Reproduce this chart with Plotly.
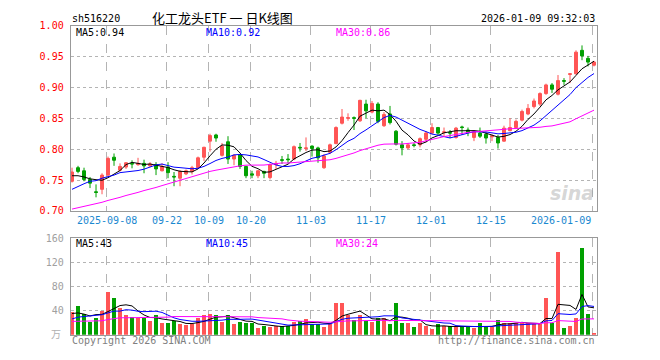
import plotly.graph_objects as go
import pandas as pd

# ---------------- data ----------------
dates = [
    "2025-08-29",
    "2025-09-01", "2025-09-02", "2025-09-03", "2025-09-04", "2025-09-05",
    "2025-09-08", "2025-09-09", "2025-09-10", "2025-09-11", "2025-09-12",
    "2025-09-15", "2025-09-16", "2025-09-17", "2025-09-18", "2025-09-19",
    "2025-09-22", "2025-09-23", "2025-09-24", "2025-09-25", "2025-09-26",
    "2025-09-29", "2025-09-30",
    "2025-10-09", "2025-10-10", "2025-10-13", "2025-10-14", "2025-10-15",
    "2025-10-16", "2025-10-17", "2025-10-20", "2025-10-21", "2025-10-22",
    "2025-10-23", "2025-10-24", "2025-10-27", "2025-10-28", "2025-10-29",
    "2025-10-30", "2025-10-31",
    "2025-11-03", "2025-11-04", "2025-11-05", "2025-11-06", "2025-11-07",
    "2025-11-10", "2025-11-11", "2025-11-12", "2025-11-13", "2025-11-14",
    "2025-11-17", "2025-11-18", "2025-11-19", "2025-11-20", "2025-11-21",
    "2025-11-24", "2025-11-25", "2025-11-26", "2025-11-27", "2025-11-28",
    "2025-12-01", "2025-12-02", "2025-12-03", "2025-12-04", "2025-12-05",
    "2025-12-08", "2025-12-09", "2025-12-10", "2025-12-11", "2025-12-12",
    "2025-12-15", "2025-12-16", "2025-12-17", "2025-12-18", "2025-12-19",
    "2025-12-22", "2025-12-23", "2025-12-24", "2025-12-25", "2025-12-26",
    "2025-12-29", "2025-12-30", "2025-12-31",
    "2026-01-05", "2026-01-06", "2026-01-07", "2026-01-08", "2026-01-09",
]

open_ = [0.748, 0.770, 0.765, 0.751, 0.731, 0.735, 0.758, 0.787, 0.766, 0.771,
         0.777, 0.775, 0.777, 0.773, 0.775, 0.765, 0.771, 0.756, 0.753, 0.760,
         0.764, 0.770, 0.787, 0.813, 0.823, 0.790, 0.812, 0.784, 0.791, 0.772,
         0.760, 0.757, 0.764, 0.754, 0.775, 0.783, 0.784, 0.784, 0.803, 0.801,
         0.805, 0.802, 0.770, 0.795, 0.809, 0.842, 0.850, 0.851, 0.846, 0.873,
         0.860, 0.873, 0.838, 0.857, 0.829, 0.807, 0.802, 0.807, 0.807, 0.816,
         0.826, 0.835, 0.827, 0.827, 0.819, 0.836, 0.831, 0.819, 0.826, 0.824,
         0.820, 0.819, 0.813, 0.830, 0.835, 0.847, 0.857, 0.869, 0.873, 0.890,
         0.904, 0.889, 0.911, 0.921, 0.922, 0.960, 0.947, 0.936]
high = [0.770, 0.773, 0.770, 0.755, 0.743, 0.761, 0.788, 0.793, 0.777, 0.779,
        0.782, 0.786, 0.783, 0.779, 0.779, 0.777, 0.779, 0.763, 0.766, 0.767,
        0.773, 0.788, 0.804, 0.825, 0.825, 0.810, 0.821, 0.792, 0.792, 0.773,
        0.765, 0.766, 0.765, 0.777, 0.781, 0.789, 0.792, 0.806, 0.810, 0.819,
        0.806, 0.804, 0.792, 0.809, 0.837, 0.865, 0.858, 0.853, 0.880, 0.880,
        0.878, 0.876, 0.860, 0.870, 0.831, 0.813, 0.810, 0.810, 0.819, 0.829,
        0.842, 0.836, 0.835, 0.831, 0.836, 0.838, 0.835, 0.830, 0.835, 0.828,
        0.824, 0.823, 0.838, 0.850, 0.848, 0.864, 0.873, 0.882, 0.892, 0.906,
        0.907, 0.920, 0.915, 0.923, 0.960, 0.968, 0.951, 0.943]
low = [0.746, 0.761, 0.748, 0.737, 0.722, 0.727, 0.756, 0.773, 0.764, 0.768,
       0.769, 0.773, 0.761, 0.771, 0.758, 0.764, 0.753, 0.740, 0.740, 0.758,
       0.759, 0.768, 0.781, 0.796, 0.812, 0.788, 0.776, 0.774, 0.768, 0.753,
       0.753, 0.753, 0.753, 0.751, 0.768, 0.776, 0.777, 0.782, 0.796, 0.797,
       0.788, 0.778, 0.768, 0.792, 0.808, 0.840, 0.846, 0.831, 0.844, 0.850,
       0.858, 0.842, 0.836, 0.840, 0.806, 0.790, 0.800, 0.803, 0.803, 0.811,
       0.824, 0.823, 0.821, 0.818, 0.817, 0.823, 0.821, 0.813, 0.818, 0.809,
       0.813, 0.801, 0.812, 0.829, 0.834, 0.845, 0.855, 0.866, 0.870, 0.888,
       0.891, 0.887, 0.904, 0.907, 0.921, 0.944, 0.934, 0.934]
close = [0.763, 0.764, 0.751, 0.745, 0.730, 0.758, 0.785, 0.782, 0.772, 0.778,
         0.776, 0.777, 0.773, 0.776, 0.768, 0.772, 0.762, 0.755, 0.764, 0.765,
         0.770, 0.786, 0.803, 0.822, 0.818, 0.805, 0.784, 0.790, 0.772, 0.757,
         0.758, 0.765, 0.761, 0.775, 0.777, 0.782, 0.783, 0.804, 0.802, 0.802,
         0.801, 0.786, 0.789, 0.807, 0.835, 0.852, 0.851, 0.850, 0.879, 0.862,
         0.874, 0.845, 0.856, 0.843, 0.808, 0.802, 0.807, 0.806, 0.817, 0.826,
         0.835, 0.826, 0.828, 0.826, 0.834, 0.835, 0.827, 0.828, 0.821, 0.818,
         0.821, 0.810, 0.834, 0.835, 0.845, 0.861, 0.866, 0.878, 0.890, 0.904,
         0.897, 0.911, 0.910, 0.922, 0.957, 0.951, 0.941, 0.941]
volume = [37, 47, 34, 21, 27, 39, 70, 61, 44, 33,
          30, 28, 28, 23, 32, 19, 19, 22, 17, 16,
          18, 27, 32, 35, 33, 21, 33, 18, 21, 19,
          19, 11, 14, 13, 15, 14, 14, 21, 22, 26,
          17, 17, 13, 18, 53, 53, 32, 25, 32, 22,
          21, 28, 28, 17, 53, 19, 19, 12, 19, 14,
          9, 17, 14, 14, 13, 12, 12, 11, 19, 13,
          13, 25, 19, 19, 19, 20, 19, 17, 17, 61,
          19, 137, 11, 14, 28, 143, 34, 3]

# moving-average values before enough in-window history exists
ma5_head = [0.757, 0.757, 0.755, 0.752]
ma10_head = [0.735, 0.740, 0.744, 0.748, 0.749, 0.753, 0.755, 0.758, 0.762]
ma30_head = [0.703, 0.705, 0.707, 0.709, 0.712, 0.714, 0.717, 0.719, 0.722, 0.725,
             0.727, 0.730, 0.733, 0.735, 0.738, 0.741, 0.744, 0.746, 0.749, 0.752,
             0.755, 0.758, 0.761, 0.764, 0.766, 0.768, 0.770, 0.772, 0.773]
vma5_head = [35, 36, 34, 31]
vma10_head = [26, 29, 30, 31, 31, 33, 36, 39, 39]
vma30_head = [22, 22, 22, 22, 22, 23, 25, 27, 28, 28, 28, 28, 28, 28, 28, 29, 29,
              30, 30, 30, 30, 30, 30, 30, 30, 30, 30, 30, 30]

price_ma_labels = [0.94, 0.92, 0.86]
volume_ma_labels = [43, 45, 24]

tick_dates = ["2025-09-08", "2025-09-22", "2025-10-09", "2025-10-20", "2025-11-03",
              "2025-11-17", "2025-12-01", "2025-12-15", "2026-01-09"]
tick_labels = ["2025-09-08", "09-22", "10-09", "10-20", "11-03",
               "11-17", "12-01", "12-15", "2026-01-09"]
price_ticks = [0.70, 0.75, 0.80, 0.85, 0.90, 0.95, 1.00]
volume_ticks = [40, 80, 120, 160]

# ---------------- helpers ----------------
W, H = 660, 360
RED = "#ff5555"
GREEN = "#00a000"
MONO = "DejaVu Sans Mono"


def fx(px):
    return px / W


def fy(py):
    return 1 - py / H


def moving(vals, n, head):
    s = pd.Series(vals, dtype=float).rolling(n).mean()
    s.iloc[:n - 1] = head
    return s.tolist()


idx = list(range(len(dates)))
ma5 = moving(close, 5, ma5_head)
ma10 = moving(close, 10, ma10_head)
ma30 = moving(close, 30, ma30_head)
vma5 = moving(volume, 5, vma5_head)
vma10 = moving(volume, 10, vma10_head)
vma30 = moving(volume, 30, vma30_head)
vol_colors = [RED if c >= o else GREEN for o, c in zip(open_, close)]

tick_idx = [dates.index(d) for d in tick_dates]
grid_pos = [i - 0.25 for i in tick_idx]

fig = go.Figure()

fig.add_trace(go.Candlestick(
    x=idx, open=open_, high=high, low=low, close=close,
    increasing=dict(line=dict(color=RED, width=1), fillcolor=RED),
    decreasing=dict(line=dict(color=GREEN, width=1), fillcolor=GREEN),
    whiskerwidth=0, xaxis="x", yaxis="y", showlegend=False, hoverinfo="skip",
))
for series, col in [(ma5, "black"), (ma10, "#0000ff"), (ma30, "#ff00ff")]:
    fig.add_trace(go.Scatter(x=idx, y=series, mode="lines",
                             line=dict(color=col, width=1),
                             xaxis="x", yaxis="y", showlegend=False, hoverinfo="skip"))

fig.add_trace(go.Bar(x=idx, y=volume, width=0.8, marker=dict(color=vol_colors, line=dict(width=0)),
                     xaxis="x2", yaxis="y2", showlegend=False, hoverinfo="skip"))
for series, col in [(vma5, "black"), (vma10, "#0000ff"), (vma30, "#ff00ff")]:
    fig.add_trace(go.Scatter(x=idx, y=series, mode="lines",
                             line=dict(color=col, width=1, shape="linear"),
                             xaxis="x2", yaxis="y2", showlegend=False, hoverinfo="skip"))

xdom = [fx(70.7), fx(597.3)]
xrange = [-0.22, 87.55]
axis_common = dict(showline=True, linecolor="#999999", linewidth=1, mirror=True,
                   zeroline=False, fixedrange=True)

fig.update_layout(
    width=W, height=H, autosize=False,
    margin=dict(l=0, r=0, t=0, b=0),
    paper_bgcolor="white", plot_bgcolor="white",
    boxgap=0.3,
    bargap=0,
    xaxis=dict(domain=xdom, range=xrange, anchor="y", tickmode="array", tickvals=grid_pos,
               showticklabels=False, ticks="", showgrid=True, gridcolor="#b4b4b4",
               griddash="dash", gridwidth=1, rangeslider=dict(visible=False), **axis_common),
    yaxis=dict(domain=[fy(212.0), fy(20.3)], range=[0.70, 1.00], anchor="x",
               tickmode="array", tickvals=price_ticks, tickformat=".2f",
               tickfont=dict(family=MONO, size=10, color="#ff0000"), ticks="",
               ticklabelstandoff=4,
               showgrid=True, gridcolor="#b4b4b4", griddash="dot", gridwidth=1, **axis_common),
    xaxis2=dict(domain=xdom, range=xrange, anchor="y2", tickmode="array", tickvals=grid_pos,
                showticklabels=False, ticks="", showgrid=True, gridcolor="#b4b4b4",
                griddash="dash", gridwidth=1, **axis_common),
    yaxis2=dict(domain=[fy(340.0), fy(240.0)], range=[0, 160], anchor="x2",
                tickmode="array", tickvals=volume_ticks,
                tickfont=dict(family=MONO, size=10, color="#a0a0a0"), ticks="",
                ticklabelstandoff=4,
                showgrid=True, gridcolor="#b4b4b4", griddash="dot", gridwidth=1, **axis_common),
)

ann = []


def text(x, y, s, color="black", anchor="left", size=10, family=MONO, **kw):
    ann.append(dict(x=fx(x), y=fy(y), xref="paper", yref="paper", text=s, showarrow=False,
                    xanchor=anchor, yanchor="middle",
                    font=dict(family=family, size=size, color=color), **kw))


text(70, 13, "sh516220")
text(150, 12, "化工龙头ETF 一 日K线图", size=13, family="Noto Sans CJK SC")
text(597, 13, "2026-01-09 09:32:03", anchor="right")

ma_cols = ["black", "#0000ff", "#ff00ff"]
ma_x = [74, 204, 334]
for name, v, c, x in zip(["MA5", "MA10", "MA30"], price_ma_labels, ma_cols, ma_x):
    text(x, 27, f"{name}:{v:.2f}", color=c)
for name, v, c, x in zip(["MA5", "MA10", "MA30"], volume_ma_labels, ma_cols, ma_x):
    text(x, 246, f"{name}:{v}", color=c)

# date labels under the price panel, placed on the x axis scale
for k, (pos, lab) in enumerate(zip(grid_pos, tick_labels)):
    last = k == len(tick_labels) - 1
    ann.append(dict(x=pos, y=fy(222), xref="x", yref="paper", text=lab, showarrow=False,
                    xanchor="right" if last else "center", yanchor="middle",
                    font=dict(family=MONO, size=10, color="#1a88d0")))

text(63, 339, "万", color="#b0b0b0", anchor="right", size=10, family="Noto Sans CJK SC")
text(70, 346, "Copyright 2026 SINA.COM", color="#808080")
text(597, 346, "http://finance.sina.com.cn", color="#808080", anchor="right")
ann.append(dict(x=fx(596), y=fy(193), xref="paper", yref="paper", text="<i><b>sina</b></i>",
                showarrow=False, xanchor="right", yanchor="middle",
                font=dict(family="DejaVu Sans", size=19, color="rgba(150,150,150,0.4)")))

fig.update_layout(annotations=ann)
fig.write_html("out.html",
               config={"displayModeBar": False, "staticPlot": True},
               post_script="document.body.style.margin='0';document.body.style.overflow='hidden';")
